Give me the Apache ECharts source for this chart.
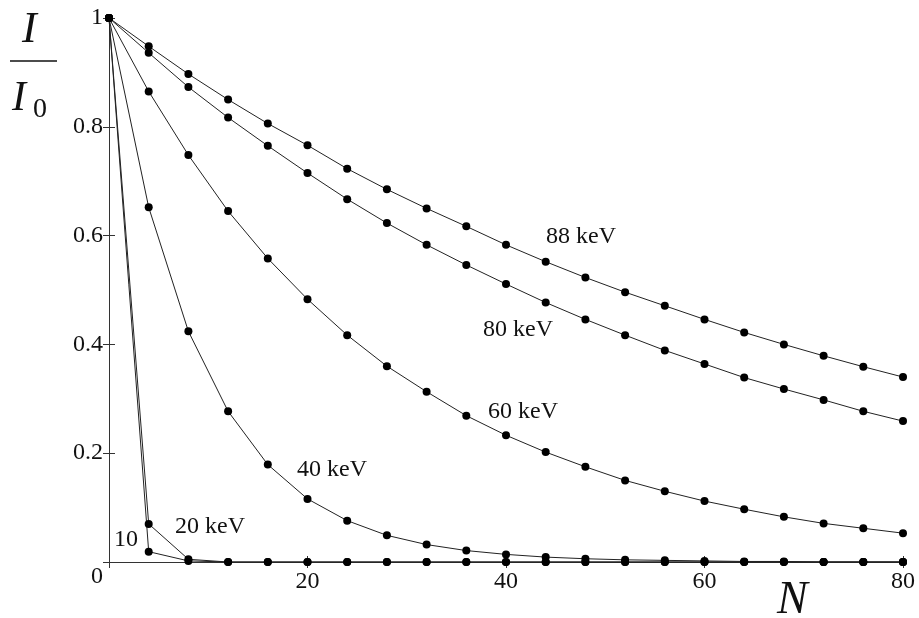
<!DOCTYPE html>
<html>
<head>
<meta charset="utf-8">
<title>I/I0 vs N</title>
<script src="https://cdn.jsdelivr.net/npm/echarts@6/dist/echarts.min.js"></script>
<style>
  html, body { margin: 0; padding: 0; background: #fff; }
  #chart { width: 919px; height: 618px; }
</style>
</head>
<body>
<div id="chart"></div>
<script>
// number of layers N (points every 4)
var N = [0, 4, 8, 12, 16, 20, 24, 28, 32, 36, 40, 44, 48, 52, 56, 60, 64, 68, 72, 76, 80];

// I/I0, one array per energy
var kev88 = [1, 0.948, 0.897, 0.850, 0.806, 0.766, 0.723, 0.685, 0.650, 0.617, 0.583, 0.552, 0.523, 0.496, 0.471, 0.446, 0.422, 0.400, 0.379, 0.359, 0.340];
var kev80 = [1, 0.936, 0.873, 0.817, 0.765, 0.715, 0.667, 0.623, 0.583, 0.546, 0.511, 0.477, 0.446, 0.417, 0.389, 0.364, 0.339, 0.318, 0.298, 0.277, 0.259];
var kev60 = [1, 0.865, 0.748, 0.645, 0.558, 0.483, 0.417, 0.360, 0.313, 0.269, 0.233, 0.202, 0.175, 0.150, 0.130, 0.112, 0.097, 0.083, 0.071, 0.062, 0.053];
var kev40 = [1, 0.652, 0.424, 0.277, 0.179, 0.116, 0.076, 0.049, 0.032, 0.021, 0.014, 0.009, 0.006, 0.004, 0.003, 0.002, 0.001, 0.001, 0, 0, 0];
var kev20 = [1, 0.070, 0.005, 0, 0, 0, 0, 0, 0, 0, 0, 0, 0, 0, 0, 0, 0, 0, 0, 0, 0];
var kev10 = [1, 0.019, 0.002, 0, 0, 0, 0, 0, 0, 0, 0, 0, 0, 0, 0, 0, 0, 0, 0, 0, 0];

var xTicks = [20, 40, 60, 80];
var yTicks = [0.2, 0.4, 0.6, 0.8, 1];

var FONT = '"Liberation Serif", "Times New Roman", serif';
var INK = '#111';

function pairs(ys) {
  return N.map(function (n, i) { return [n, ys[i]]; });
}

function curve(name, ys) {
  return {
    name: name,
    type: 'line',
    data: pairs(ys),
    smooth: false,
    symbol: 'circle',
    symbolSize: 8,
    clip: false,
    lineStyle: { color: '#222', width: 1 },
    itemStyle: { color: '#000' },
    emphasis: { disabled: true },
    z: 3
  };
}

function label(text, x, y, size) {
  return {
    type: 'text',
    left: x,
    top: y,
    style: {
      text: text,
      font: (size || 24) + 'px ' + FONT,
      fill: INK
    },
    z: 10
  };
}

var axisLine = { show: true, lineStyle: { color: '#333', width: 1 } };
var tick = { show: true, inside: true, length: 6, lineStyle: { color: '#333' } };

var chart = echarts.init(document.getElementById('chart'));

chart.setOption({
  animation: false,
  backgroundColor: '#fff',
  grid: { left: 109, right: 16, top: 18, bottom: 56 },
  xAxis: [
    {
      type: 'value', position: 'bottom', min: 0, max: 80, interval: 20,
      axisLine: axisLine, axisTick: tick, splitLine: { show: false },
      axisLabel: {
        margin: 8, fontSize: 24, fontFamily: FONT, color: INK,
        formatter: function (v) { return xTicks.indexOf(v) >= 0 ? String(v) : ''; }
      }
    },
    {
      type: 'value', position: 'top', min: 0, max: 80, interval: 20,
      axisLine: axisLine, axisTick: tick, splitLine: { show: false },
      axisLabel: { show: false }
    }
  ],
  yAxis: [
    {
      type: 'value', position: 'left', min: 0, max: 1, interval: 0.2,
      axisLine: axisLine, axisTick: tick, splitLine: { show: false },
      axisLabel: {
        margin: 6, fontSize: 24, fontFamily: FONT, color: INK,
        formatter: function (v) {
          var hit = yTicks.filter(function (t) { return Math.abs(t - v) < 1e-6; });
          return hit.length ? String(hit[0]) : '';
        }
      }
    },
    {
      type: 'value', position: 'right', min: 0, max: 1, interval: 0.2,
      axisLine: axisLine, axisTick: tick, splitLine: { show: false },
      axisLabel: { show: false }
    }
  ],
  series: [
    curve('88 keV', kev88),
    curve('80 keV', kev80),
    curve('60 keV', kev60),
    curve('40 keV', kev40),
    curve('20 keV', kev20),
    curve('10 keV', kev10)
  ],
  graphic: [
    // curve labels
    label('88 keV', 546, 225),
    label('80 keV', 483, 318),
    label('60 keV', 488, 400),
    label('40 keV', 297, 458),
    label('20 keV', 175, 515),
    label('10', 114, 528),
    // shared origin label
    label('0', 91, 565),
    // axis names
    {
      type: 'text', left: 777, top: 578, z: 10,
      style: { text: 'N', font: 'italic 46px ' + FONT, fill: INK }
    },
    {
      type: 'text', left: 22, top: 8, z: 10,
      style: { text: 'I', font: 'italic 44px ' + FONT, fill: INK }
    },
    {
      type: 'line', z: 10,
      shape: { x1: 10, y1: 61, x2: 57, y2: 61 },
      style: { stroke: INK, lineWidth: 1.5 }
    },
    {
      type: 'text', left: 12, top: 78, z: 10,
      style: { text: 'I', font: 'italic 42px ' + FONT, fill: INK }
    },
    {
      type: 'text', left: 33, top: 96, z: 10,
      style: { text: '0', font: '28px ' + FONT, fill: INK }
    }
  ]
});
</script>
</body>
</html>
